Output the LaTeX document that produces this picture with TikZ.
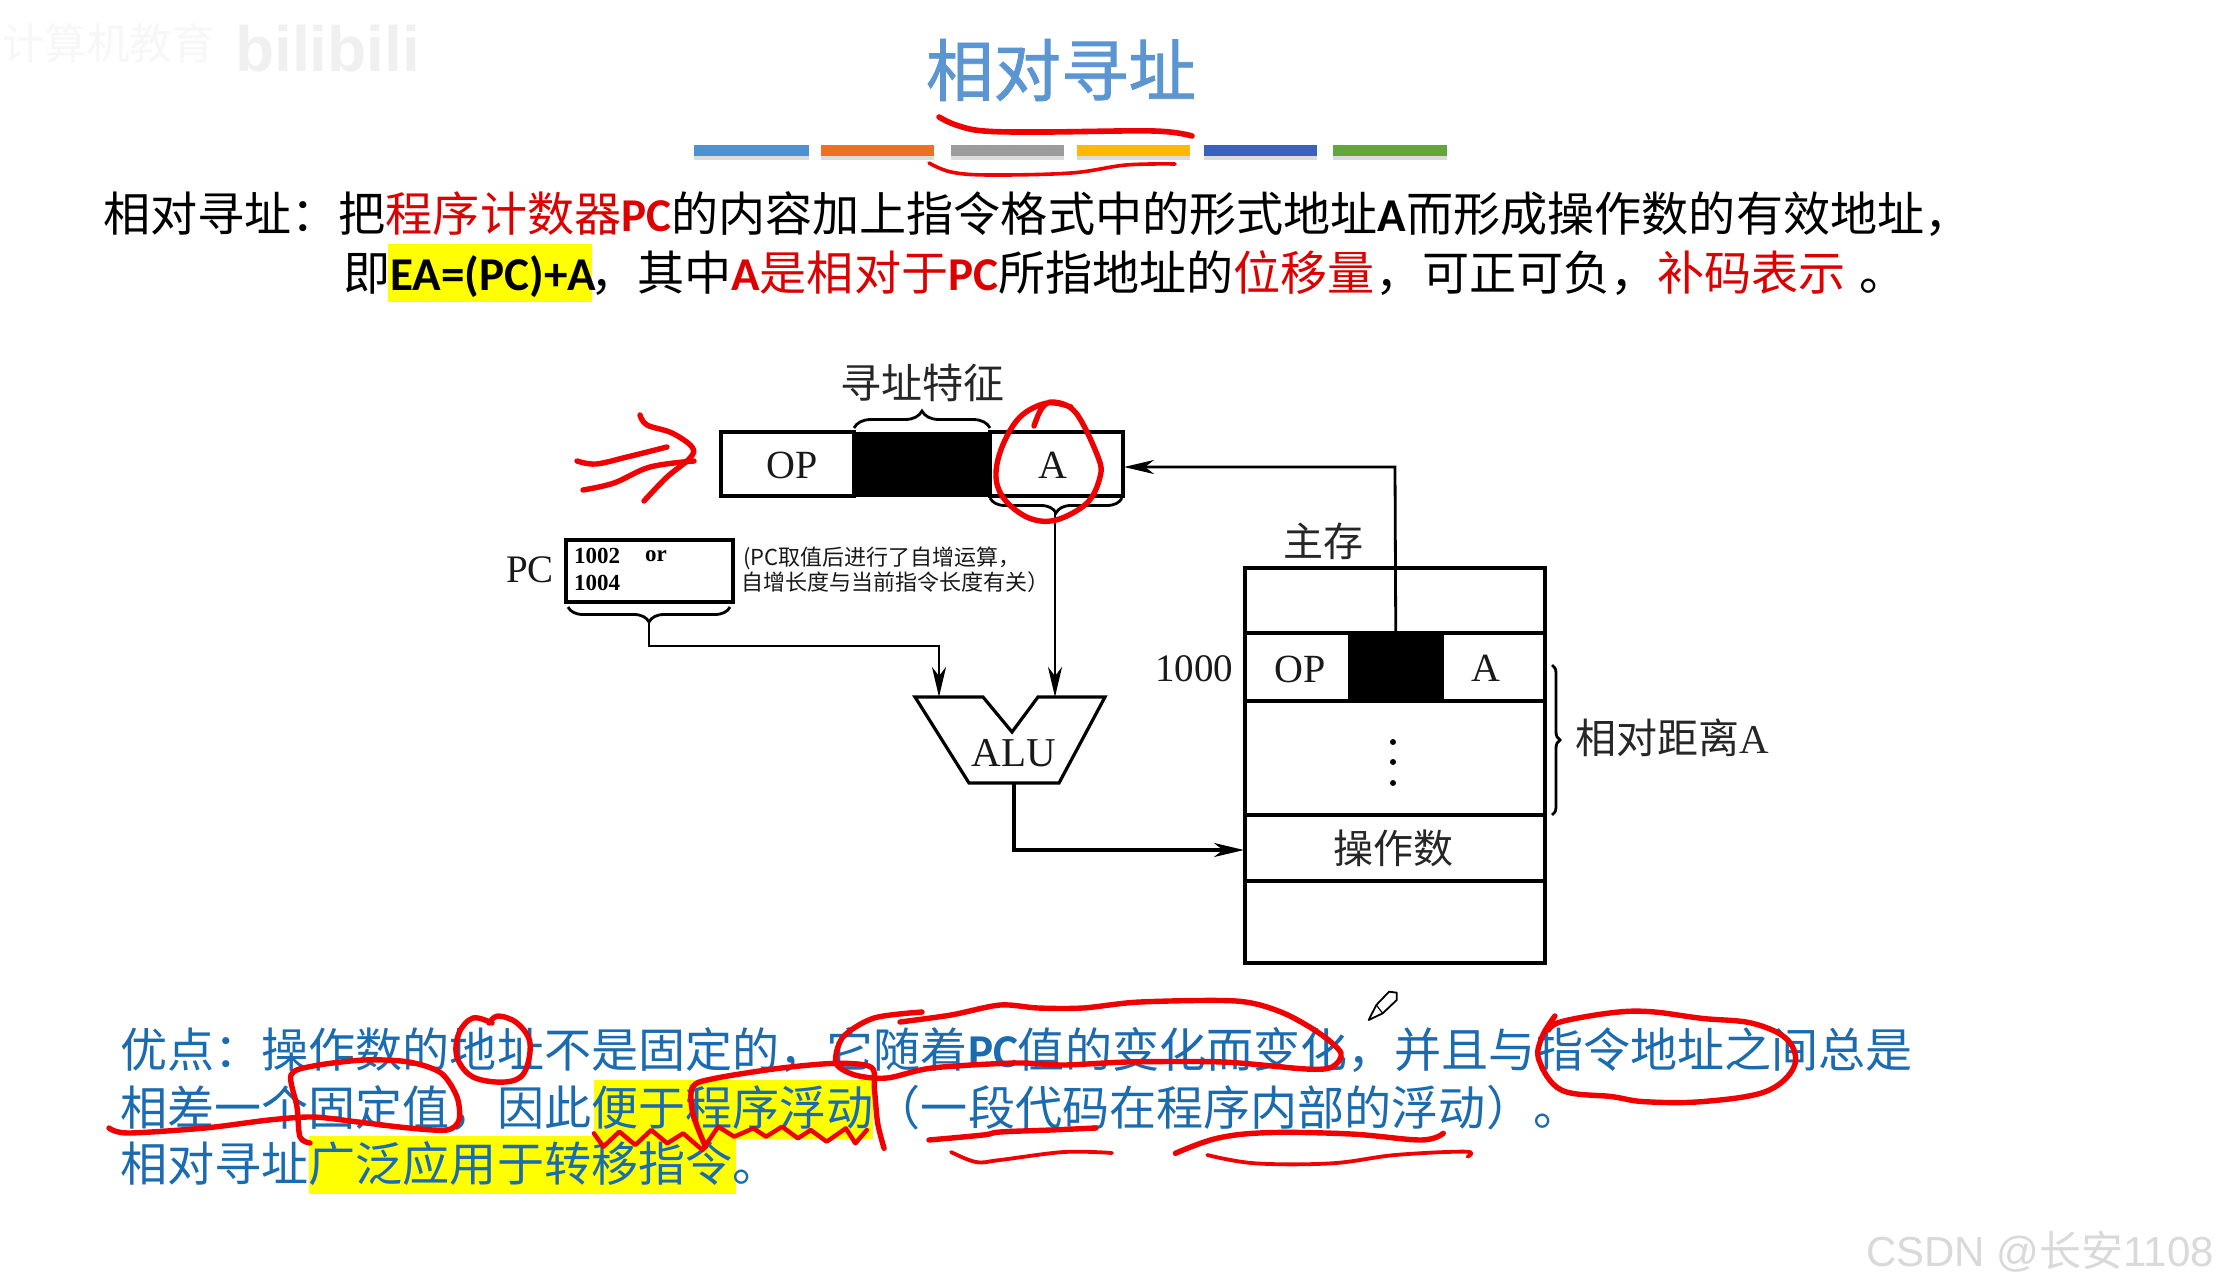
\documentclass[tikz,border=0pt]{standalone}
\usepackage{fontspec}
\usepackage{xcolor}
\usetikzlibrary{arrows.meta,decorations.pathreplacing,calc}
\setmainfont{Noto Sans CJK SC}
\newfontfamily\ttlf[FakeBold=1.2]{Noto Sans CJK SC}
\newfontfamily\latb{Carlito}
\newfontfamily\tms{Liberation Serif}
\newfontfamily\arl{Liberation Sans}
\newcommand\fz[1]{\fontsize{#1}{#1}\selectfont}
\newcommand\lt[1]{{\latb\bfseries #1}}
\definecolor{rtxt}{HTML}{DD0000}
\definecolor{ink}{HTML}{F00000}
\definecolor{btxt}{HTML}{1A6BB0}
\definecolor{ttl}{HTML}{5B96D2}
\definecolor{hl}{HTML}{FFFF00}
\newcommand\rd[1]{\textcolor{rtxt}{#1}}
\tikzset{
  txt/.style={anchor=base west,inner sep=0pt,font=\fz{47.1}},
  lab/.style={inner sep=0pt,text=black!85,font=\fz{40}},
  serif/.style={inner sep=0pt,text=black!90,font=\tms\fz{40}},
  cell/.style={draw=black,line width=3.4pt,inner sep=0pt,minimum width=#1,anchor=center},
  blk/.style={draw=black,fill=black,inner sep=0pt,minimum width=#1,anchor=center},
  flow/.style={draw=black,line width=2.8pt,-{Stealth[length=30pt,width=14pt,inset=9pt]}},
  wire/.style={draw=black,line width=2.8pt},
  brc/.style={draw=black,line width=2.8pt,decorate,decoration={brace,amplitude=#1}},
  inkp/.style={draw=ink,line width=5.4pt,line cap=round,line join=round},
  shd/.style={fill=black!30,opacity=.45,draw=none},
}
\begin{document}
\begin{tikzpicture}[x=1pt,y=-1pt]
\useasboundingbox (0,0) rectangle (2219,1287);
\fill[white] (0,0) rectangle (2219,1287);
% watermarks
\node[anchor=base west,inner sep=0pt,text=black!3,font=\fz{42.5}] (wm1) at (2,60) {计算机教育};
\node[anchor=base west,inner sep=0pt,text=black!6,font=\arl\bfseries\fz{64}] (wm2) at (235,72) {bilibili};
\node[anchor=base west,inner sep=0pt,text=black!15,font=\arl\fz{42}] (wm3) at (1866,1266) {CSDN @{\fontspec{Noto Sans CJK SC}长安}1108};
% title
\node[inner sep=0pt,text=ttl,font=\ttlf\fz{67.5}] (title) at (1061,70) {相对寻址};
% bars
\foreach \a/\b/\c in {694/809/4F90D0,821/934/EE7028,951/1064/9C9C9C,1077/1190/FFB900,1204/1317/3A62BB,1333/1447/62A63C}{
  \fill[shd] (\a,149) rectangle (\b,160);
  \definecolor{tmpc}{HTML}{\c}
  \fill[tmpc] (\a,145) rectangle (\b,156);
}
% highlights
\fill[hl] (388,244) rectangle (592,302);
\fill[hl] (594,1080) rectangle (873,1139);
\fill[hl] (309,1136) rectangle (736,1194);
% body text
\node[txt] (l1) at (103,231) {相对寻址：把\rd{程序计数器\lt{PC}}的内容加上指令格式中的形式地址\lt{A}而形成操作数的有效地址，};
\node[txt] (l2) at (343,290) {即\lt{EA=(PC)+A}\hspace{-6pt}，其中\rd{\lt{A}是相对于\lt{PC}}所指地址的\rd{位移量}，可正可负，\rd{补码表示}\hspace{13pt}。};
\node[txt,text=btxt] (b1) at (120,1067) {优点：操作数的地址不是固定的，它随着\lt{PC}值的变化而变化，并且与指令地址之间总是};
\node[txt,text=btxt] (b2) at (120,1125) {相差一个固定值，因此便于程序浮动（一段代码在程序内部的浮动）。};
\node[txt,text=btxt] (b3) at (120,1181) {相对寻址广泛应用于转移指令。};
% instruction
\node[cell=133pt,minimum height=64pt] (iop) at (787.5,464) {};
\node[blk=136pt,minimum height=64pt] (iblk) at (922,464) {};
\node[cell=133pt,minimum height=64pt] (ia) at (1056.5,464) {};
\node[serif] (iopt) at (792,465) {OP};
\node[serif] (iat) at (1053,465) {A};
\node[lab,font=\fz{41}] (tz) at (922,383) {寻址特征};
\draw[brc=17pt] (854,428) -- (990,428);
\draw[brc=15pt] (1122,498) -- (990,498);
% PC
\node[cell=167pt,minimum height=62pt] (pc) at (649.5,571) {};
\node[serif,font=\tms\fz{39}] (pcl) at (530,570) {PC};
\node[anchor=west,inner sep=0pt,font=\tms\bfseries\fz{23}] (pc1) at (574,556) {1002};
\node[inner sep=0pt,font=\tms\bfseries\fz{23}] (pcor) at (656,556) {or};
\node[anchor=west,inner sep=0pt,font=\tms\bfseries\fz{23}] (pc2) at (574,583) {1004};
\node[anchor=west,inner sep=0pt,text=black!90,font=\fz{22}] (n1) at (743,558) {(PC取值后进行了自增运算，};
\node[anchor=west,inner sep=0pt,text=black!90,font=\fz{22}] (n2) at (741,582) {自增长度与当前指令长度有关）};
\draw[brc=15pt] (730,607) -- (568,607);
% ALU
\draw[wire,line width=3.2pt,line join=miter] (915,697) -- (983,697) -- (1012,732) -- (1038,697) -- (1105,697) -- (1059,783) -- (969,783) -- cycle;
\node[serif,font=\tms\fz{41}] (alu) at (1014,753) {ALU};
\coordinate (pcs) at (649,623);
\coordinate (pcb) at (939,646);
\coordinate (alui1) at (939,697);
\coordinate (alui2) at (1055,697);
\coordinate (aluo) at (1014,783);
\coordinate (as) at (1055,513);
% memory
\node[cell=300pt,minimum height=65pt] (m0) at (1395,600.5) {};
\node[cell=104.5pt,minimum height=68pt] (m1op) at (1297.25,667) {};
\node[blk=92.5pt,minimum height=68pt] (m1b) at (1395.75,667) {};
\node[cell=103pt,minimum height=68pt] (m1a) at (1493.5,667) {};
\node[cell=300pt,minimum height=114pt] (m2) at (1395,758) {};
\node[cell=300pt,minimum height=66pt] (m3) at (1395,848) {};
\node[cell=300pt,minimum height=82pt] (m4) at (1395,922) {};
\node[serif] (mopt) at (1300,669) {OP};
\node[serif] (mat) at (1486,668) {A};
\node[serif,font=\tms\fz{39}] (addr) at (1194,669) {1000};
\node[lab] (zc) at (1323,541) {主存};
\node[lab] (czs) at (1393,848) {操作数};
\foreach \y/\n in {742/d1,762/d2,783/d3}{\node[circle,fill=black,inner sep=0pt,minimum size=6pt] (\n) at (1393,\y) {};}
\draw[brc=8pt] (1552,665) -- (1552,815);
\node[anchor=west,inner sep=0pt,text=black!85,font=\fz{41}] (xd) at (1575,738) {相对距离{\tms A}};
% connectors
\coordinate (ibend) at (1395,467);
\coordinate (iin) at (1124,467);
\coordinate (obend) at (1014,850);
\coordinate (oin) at (1244,850);
\draw[flow] (pcs) -- (649,646) -- (pcb) -- (alui1);
\draw[flow] (as) -- (alui2);
\draw[flow] (m1b.north) -- (ibend) -- (iin);
\draw[flow,line width=3.4pt] (aluo) -- (obend) -- (oin);
% red ink
\draw[inkp,line width=5.6pt] plot[smooth,tension=.6] coordinates {(939,117)(956,125)(984,131)(1044,132)(1154,131)(1192,136)};
\draw[inkp,line width=3.6pt] plot[smooth,tension=.6] coordinates {(929,163)(951,172)(989,175)(1071,173)(1126,165)(1175,164)};
\draw[inkp] plot[smooth,tension=.6] coordinates {(640,415)(647,425)(672,433)(692,447)(690,458)(667,477)(644,501)};
\draw[inkp] plot[smooth,tension=.6] coordinates {(577,461)(596,464)(627,457)(667,447)};
\draw[inkp] plot[smooth,tension=.6] coordinates {(583,490)(614,483)(650,467)(694,461)};
\draw[inkp] plot[smooth,tension=.6] coordinates {(1034,426)(1042,408)(1054,402)(1076,413)(1098,457)(1100,477)(1087,503)(1056,520)(1029,518)(1005,500)(996,477)(1002,447)(1020,417)(1047,403)(1071,407)};
\draw[inkp] plot[smooth,tension=.6] coordinates {(492,1023)(473,1018)(459,1033)(457,1057)(473,1077)(505,1082)(524,1073)(530,1043)(517,1023)(498,1016)(489,1023)};
\draw[inkp] plot[smooth,tension=.5] coordinates {(310,1143)(300,1137)(297,1107)(291,1075)(313,1066)(364,1060)(409,1062)(441,1073)(457,1097)(459,1120)(447,1130)(409,1128)(358,1122)(313,1117)(269,1120)(205,1128)(128,1133)(109,1128)};
\draw[inkp] plot[smooth,tension=.5] coordinates {(900,1022)(951,1015)(1000,1005)(1038,1008)(1083,1008)(1140,1002)(1236,1001)(1281,1012)(1319,1033)(1341,1053)(1332,1067)(1306,1069)(1223,1062)(1128,1062)(1064,1065)(1015,1063)(932,1068)(887,1078)(855,1075)(836,1063)(843,1037)(874,1018)(922,1012)};
\begin{scope}[shift={(90,980)},x=0.6378pt,y=-0.3333pt]
\draw[inkp,line width=4.4pt] (790,460) -- (805,500) -- (830,455) -- (855,495) -- (880,450) -- (905,490) -- (930,460) -- (960,510) -- (985,440) -- (1010,470) -- (1040,445) -- (1060,470) -- (1085,440) -- (1110,475) -- (1130,450) -- (1155,485) -- (1185,445) -- (1200,490) -- (1218,450);
\draw[inkp] plot[smooth,tension=.5] coordinates {(965,500)(945,400)(945,320)(980,295)(1080,265)(1170,250)(1225,262)(1230,330)(1235,430)(1245,505)};
\end{scope}
\begin{scope}[shift={(1000,980)},x=0.6378pt,y=-0.3333pt]
\draw[inkp] plot[smooth,tension=.6] coordinates {(870,108)(850,170)(845,240)(880,330)(960,350)(1010,365)(1100,365)(1200,335)(1245,260)(1235,180)(1180,130)(1100,115)(1020,95)(960,98)(880,125)(860,150)};
\draw[inkp] plot[smooth,tension=.6] coordinates {(275,520)(340,475)(420,458)(550,462)(660,480)(695,460)};
\draw[inkp,line width=3.8pt] plot[smooth,tension=.6] coordinates {(325,525)(400,550)(520,550)(620,525)(730,515)(733,530)};
\draw[draw=black,fill=white,line width=1.8pt,line join=round] (578,120) -- (590,75) -- (610,35) -- (622,38) -- (622,60) -- (600,100) -- cycle;
\draw[draw=black,line width=1.2pt] (590,75) -- (600,100);
\end{scope}
\draw[inkp] plot[smooth,tension=.6] coordinates {(929,1140)(983,1135)(1000,1132)(1051,1130)(1096,1128)};
\draw[inkp,line width=3.8pt] plot[smooth,tension=.6] coordinates {(951,1152)(976,1162)(1000,1160)(1064,1152)(1112,1153)};
\end{tikzpicture}
\end{document}
